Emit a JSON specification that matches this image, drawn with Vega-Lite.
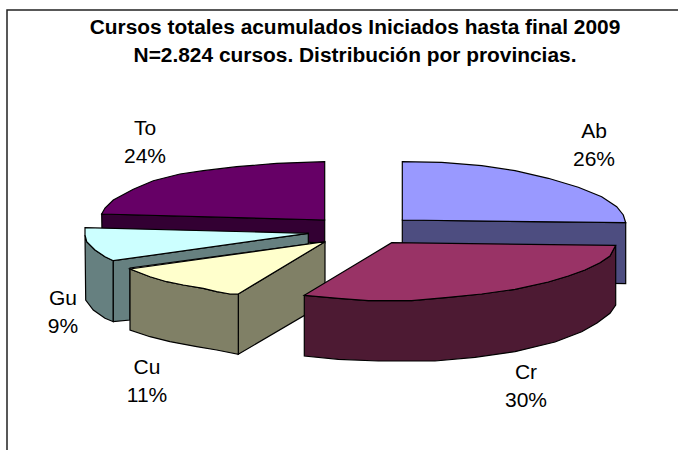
{"$schema":"https://vega.github.io/schema/vega-lite/v6.json","width":678,"height":450,"padding":0,"autosize":"none","background":"white","view":{"stroke":null},
"title":{"text":["Cursos totales acumulados Iniciados hasta final 2009","N=2.824 cursos. Distribución por provincias."],"orient":"top","anchor":"start","align":"center","baseline":"top","frame":"group","offset":-66,"dx":355,"font":"Liberation Sans","fontSize":20.9,"fontWeight":"bold","lineHeight":28,"color":"#000000"},
"datasets":{
"frame":[{"f":"marco","i":0,"x":7,"y":450},{"f":"marco","i":1,"x":7,"y":10},{"f":"marco","i":2,"x":678,"y":10}],
"labels":[{"provincia":"Ab","porcentaje":"26%","etiqueta":"Ab\n26%","x":594,"y":132},{"provincia":"Cr","porcentaje":"30%","etiqueta":"Cr\n30%","x":526,"y":373},{"provincia":"Cu","porcentaje":"11%","etiqueta":"Cu\n11%","x":147,"y":368},{"provincia":"Gu","porcentaje":"9%","etiqueta":"Gu\n9%","x":63,"y":299},{"provincia":"To","porcentaje":"24%","etiqueta":"To\n24%","x":145,"y":129}],
"shapes":[
{"c":"a Ab lado","i":0,"x":402.3,"y":220},{"c":"a Ab lado","i":1,"x":625.7,"y":222.7},{"c":"a Ab lado","i":2,"x":625.7,"y":283.7},{"c":"a Ab lado","i":3,"x":402.3,"y":280},
{"c":"b Ab sup","i":0,"x":402.3,"y":161.7},{"c":"b Ab sup","i":1,"x":441.7,"y":162.3},{"c":"b Ab sup","i":2,"x":481.7,"y":165.7},{"c":"b Ab sup","i":3,"x":515,"y":170.7},{"c":"b Ab sup","i":4,"x":548.3,"y":178.3},{"c":"b Ab sup","i":5,"x":578.3,"y":187.3},{"c":"b Ab sup","i":6,"x":601.7,"y":196.7},{"c":"b Ab sup","i":7,"x":616.7,"y":206.7},{"c":"b Ab sup","i":8,"x":623.3,"y":215},{"c":"b Ab sup","i":9,"x":625.7,"y":222.7},{"c":"b Ab sup","i":10,"x":402.3,"y":220},
{"c":"c To lado","i":0,"x":101.7,"y":214},{"c":"c To lado","i":1,"x":324.7,"y":220},{"c":"c To lado","i":2,"x":324.7,"y":243},{"c":"c To lado","i":3,"x":102,"y":232},
{"c":"d To sup","i":0,"x":324.7,"y":161.7},{"c":"d To sup","i":1,"x":276.7,"y":163.3},{"c":"d To sup","i":2,"x":236.7,"y":166.7},{"c":"d To sup","i":3,"x":203.3,"y":170.7},{"c":"d To sup","i":4,"x":180,"y":174},{"c":"d To sup","i":5,"x":153.3,"y":180.7},{"c":"d To sup","i":6,"x":133.3,"y":189.3},{"c":"d To sup","i":7,"x":113.3,"y":200},{"c":"d To sup","i":8,"x":105,"y":208},{"c":"d To sup","i":9,"x":101.7,"y":214},{"c":"d To sup","i":10,"x":324.7,"y":220},
{"c":"e Gu ext","i":0,"x":85,"y":235},{"c":"e Gu ext","i":1,"x":86.7,"y":241.7},{"c":"e Gu ext","i":2,"x":95,"y":250},{"c":"e Gu ext","i":3,"x":105,"y":256.7},{"c":"e Gu ext","i":4,"x":113.3,"y":260.7},{"c":"e Gu ext","i":5,"x":113.3,"y":321.7},{"c":"e Gu ext","i":6,"x":105,"y":318.3},{"c":"e Gu ext","i":7,"x":93.3,"y":310},{"c":"e Gu ext","i":8,"x":85.7,"y":300},
{"c":"f Gu int","i":0,"x":113.3,"y":260.7},{"c":"f Gu int","i":1,"x":308.3,"y":233.3},{"c":"f Gu int","i":2,"x":308.3,"y":244},{"c":"f Gu int","i":3,"x":130,"y":268},{"c":"f Gu int","i":4,"x":130,"y":320},{"c":"f Gu int","i":5,"x":113.3,"y":321.7},
{"c":"g Gu sup","i":0,"x":85,"y":227.7},{"c":"g Gu sup","i":1,"x":308.3,"y":233.3},{"c":"g Gu sup","i":2,"x":113.3,"y":260.7},{"c":"g Gu sup","i":3,"x":105,"y":256.7},{"c":"g Gu sup","i":4,"x":95,"y":250},{"c":"g Gu sup","i":5,"x":86.7,"y":241.7},{"c":"g Gu sup","i":6,"x":85,"y":235},
{"c":"h Cu der","i":0,"x":238.3,"y":294},{"c":"h Cu der","i":1,"x":325,"y":241.7},{"c":"h Cu der","i":2,"x":325,"y":303.3},{"c":"h Cu der","i":3,"x":238.3,"y":354.3},
{"c":"i Cu fre","i":0,"x":130,"y":269},{"c":"i Cu fre","i":1,"x":150,"y":276.7},{"c":"i Cu fre","i":2,"x":166.7,"y":281.7},{"c":"i Cu fre","i":3,"x":183.3,"y":285},{"c":"i Cu fre","i":4,"x":203.3,"y":288.3},{"c":"i Cu fre","i":5,"x":216.7,"y":291.7},{"c":"i Cu fre","i":6,"x":230,"y":294},{"c":"i Cu fre","i":7,"x":238.3,"y":294},{"c":"i Cu fre","i":8,"x":238.3,"y":354.3},{"c":"i Cu fre","i":9,"x":216.7,"y":350},{"c":"i Cu fre","i":10,"x":196.7,"y":346.7},{"c":"i Cu fre","i":11,"x":170,"y":341.7},{"c":"i Cu fre","i":12,"x":150,"y":336.7},{"c":"i Cu fre","i":13,"x":130,"y":330},
{"c":"j Cu sup","i":0,"x":325,"y":241.7},{"c":"j Cu sup","i":1,"x":238.3,"y":294},{"c":"j Cu sup","i":2,"x":230,"y":294},{"c":"j Cu sup","i":3,"x":216.7,"y":291.7},{"c":"j Cu sup","i":4,"x":203.3,"y":288.3},{"c":"j Cu sup","i":5,"x":183.3,"y":285},{"c":"j Cu sup","i":6,"x":166.7,"y":281.7},{"c":"j Cu sup","i":7,"x":150,"y":276.7},{"c":"j Cu sup","i":8,"x":130,"y":269},
{"c":"k Cr lado","i":0,"x":304.3,"y":295.3},{"c":"k Cr lado","i":1,"x":338.3,"y":298.3},{"c":"k Cr lado","i":2,"x":368.3,"y":300.7},{"c":"k Cr lado","i":3,"x":411.7,"y":300.7},{"c":"k Cr lado","i":4,"x":448.3,"y":297.3},{"c":"k Cr lado","i":5,"x":481.7,"y":294},{"c":"k Cr lado","i":6,"x":515,"y":289.3},{"c":"k Cr lado","i":7,"x":548.3,"y":282},{"c":"k Cr lado","i":8,"x":568.3,"y":276},{"c":"k Cr lado","i":9,"x":585,"y":270},{"c":"k Cr lado","i":10,"x":600,"y":262.7},{"c":"k Cr lado","i":11,"x":610,"y":256},{"c":"k Cr lado","i":12,"x":615.7,"y":245.3},{"c":"k Cr lado","i":13,"x":615.7,"y":305},{"c":"k Cr lado","i":14,"x":610,"y":313.3},{"c":"k Cr lado","i":15,"x":597,"y":323},{"c":"k Cr lado","i":16,"x":581.7,"y":331.7},{"c":"k Cr lado","i":17,"x":555,"y":342},{"c":"k Cr lado","i":18,"x":515,"y":351.7},{"c":"k Cr lado","i":19,"x":475,"y":357.3},{"c":"k Cr lado","i":20,"x":435,"y":361},{"c":"k Cr lado","i":21,"x":378.3,"y":361},{"c":"k Cr lado","i":22,"x":338.3,"y":359.3},{"c":"k Cr lado","i":23,"x":304.3,"y":356},
{"c":"l Cr sup","i":0,"x":391.7,"y":242.7},{"c":"l Cr sup","i":1,"x":615.7,"y":245.3},{"c":"l Cr sup","i":2,"x":610,"y":256},{"c":"l Cr sup","i":3,"x":600,"y":262.7},{"c":"l Cr sup","i":4,"x":585,"y":270},{"c":"l Cr sup","i":5,"x":568.3,"y":276},{"c":"l Cr sup","i":6,"x":548.3,"y":282},{"c":"l Cr sup","i":7,"x":515,"y":289.3},{"c":"l Cr sup","i":8,"x":481.7,"y":294},{"c":"l Cr sup","i":9,"x":448.3,"y":297.3},{"c":"l Cr sup","i":10,"x":411.7,"y":300.7},{"c":"l Cr sup","i":11,"x":368.3,"y":300.7},{"c":"l Cr sup","i":12,"x":338.3,"y":298.3},{"c":"l Cr sup","i":13,"x":304.3,"y":295.3}
]},
"layer":[
{"data":{"name":"frame"},"mark":{"type":"line","stroke":"#222222","strokeWidth":1.5},"encoding":{"x":{"field":"x","type":"quantitative","scale":{"domain":[0,678]},"axis":null},"y":{"field":"y","type":"quantitative","scale":{"domain":[450,0]},"axis":null},"order":{"field":"i"}}},
{"data":{"name":"shapes"},"mark":{"type":"line","interpolate":"linear-closed","stroke":"#000000","strokeWidth":1.2},"encoding":{"x":{"field":"x","type":"quantitative","scale":{"domain":[0,678]},"axis":null},"y":{"field":"y","type":"quantitative","scale":{"domain":[450,0]},"axis":null},"order":{"field":"i"},"fill":{"field":"c","type":"nominal","legend":null,"scale":{"domain":["a Ab lado","b Ab sup","c To lado","d To sup","e Gu ext","f Gu int","g Gu sup","h Cu der","i Cu fre","j Cu sup","k Cr lado","l Cr sup"],"range":["#4D4D80","#9999FF","#330033","#660066","#668080","#668080","#CCFFFF","#808066","#808066","#FFFFCC","#4D1A33","#993366"]}}}},
{"data":{"name":"labels"},"mark":{"type":"text","font":"Liberation Sans","fontSize":21,"lineHeight":27.5,"lineBreak":"\n","align":"center","baseline":"middle","color":"#000000"},"encoding":{"x":{"field":"x","type":"quantitative","scale":{"domain":[0,678]},"axis":null},"y":{"field":"y","type":"quantitative","scale":{"domain":[450,0]},"axis":null},"text":{"field":"etiqueta"}}}
]}
